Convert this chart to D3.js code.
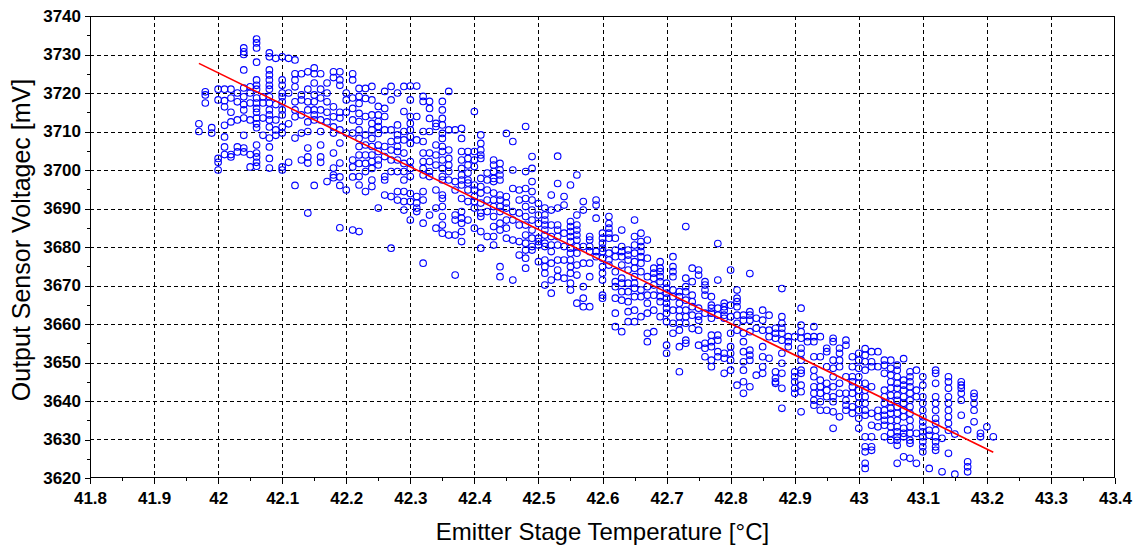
<!DOCTYPE html>
<html><head><meta charset="utf-8">
<script src="https://cdn.jsdelivr.net/npm/d3@7"></script>
<style>
html,body{margin:0;padding:0;background:#fff;}
svg{display:block;font-family:"Liberation Sans",Arial,sans-serif;}
</style></head>
<body>
<svg id="chart" width="1137" height="547"></svg>
<script>
const xTickValues = [41.8,41.9,42,42.1,42.2,42.3,42.4,42.5,42.6,42.7,42.8,42.9,43,43.1,43.2,43.3,43.4];
const xTickLabels = ["41.8","41.9","42","42.1","42.2","42.3","42.4","42.5","42.6","42.7","42.8","42.9","43","43.1","43.2","43.3","43.4"];
const xMinorTicks = [41.85,41.95,42.05,42.15,42.25,42.35,42.45,42.55,42.65,42.75,42.85,42.95,43.05,43.15,43.25,43.35];
const yTickValues = [3620,3630,3640,3650,3660,3670,3680,3690,3700,3710,3720,3730,3740];
const yMinorTicks = [3625,3635,3645,3655,3665,3675,3685,3695,3705,3715,3725,3735];
const xGrid = [41.9,42,42.1,42.2,42.3,42.4,42.5,42.6,42.7,42.8,42.9,43,43.1,43.2,43.3];
const yGrid = [3630,3640,3650,3660,3670,3680,3690,3700,3710,3720,3730];

const fitLine = [[41.97,3727.7],[43.21,3626.7]];

const temps = [41.97,41.98,41.99,42.00,42.01,42.02,42.03,42.04,42.05,42.06,42.07,42.08,42.09,42.10,42.11,42.12,42.13,42.14,42.15,42.16,42.17,42.18,42.19,42.20,42.21,42.22,42.23,42.24,42.25,42.26,42.27,42.28,42.29,42.30,42.31,42.32,42.33,42.34,42.35,42.36,42.37,42.38,42.39,42.40,42.41,42.42,42.43,42.44,42.45,42.46,42.47,42.48,42.49,42.50,42.51,42.52,42.53,42.54,42.55,42.56,42.57,42.58,42.59,42.60,42.61,42.62,42.63,42.64,42.65,42.66,42.67,42.68,42.69,42.70,42.71,42.72,42.73,42.74,42.75,42.76,42.77,42.78,42.79,42.80,42.81,42.82,42.83,42.84,42.85,42.86,42.87,42.88,42.89,42.90,42.91,42.92,42.93,42.94,42.95,42.96,42.97,42.98,42.99,43.00,43.01,43.02,43.03,43.04,43.05,43.06,43.07,43.08,43.09,43.10,43.11,43.12,43.13,43.14,43.15,43.16,43.17,43.18,43.19,43.20,43.21];

const voltages = [
[3712,3710],
[3720.3,3719.5,3717.4],
[3711,3709.6],
[3721,3718.2,3703,3702,3700],
[3721,3718,3716.4,3711.6,3708.6,3706,3704],
[3721,3718.7,3715,3712.5,3704,3703.4],
[3720,3717.7,3713,3706,3704.7],
[3731.7,3730.7,3730,3726,3721.3,3719,3717,3715.6,3713.5,3709,3705.7,3704.7],
[3721.6,3720,3717.4,3713,3704,3700.8],
[3734,3733,3731.7,3728,3723.4,3722,3721,3718.7,3717.4,3716,3715,3713.5,3712,3711,3706.5,3704.4,3703.4,3702,3701],
[3719,3717.4,3713.5,3709],
[3730.4,3729.4,3726,3724.7,3723.4,3722,3721,3719,3717.4,3715.6,3714.3,3713,3711.2,3708.3,3706,3703,3700.5],
[3729,3717,3713,3710.4,3709],
[3729.4,3723.4,3722,3720,3719,3717.7,3715.6,3714.3,3711.2,3709.6,3700.8,3700],
[3729,3720,3712,3702],
[3728.6,3725,3723.4,3721.6,3717.7,3715.6,3713.8,3708.3,3696],
[3725,3719.5,3718.2,3714.3,3709.6,3702.6],
[3725.5,3721,3717.7,3715.6,3712.5,3710,3705.7,3703.4,3701.8,3688.8],
[3726.5,3725,3722.6,3719.5,3717.7,3715.6,3714.3,3713,3696],
[3725,3721,3718.7,3715.6,3713,3710,3706.5,3703.4,3702],
[3722.6,3720,3717.7,3715,3712.5,3697],
[3725.5,3724,3716.4,3713.8,3711.2,3709.6,3704.4,3700.5,3698.7,3698],
[3725.5,3723.4,3722,3715,3713.5,3710.4,3707,3701.8,3698.2,3696,3685],
[3720,3718.2,3715,3709.6,3694.8],
[3725,3723.4,3718.7,3716,3713,3709.6,3702.6,3700.8,3698.2,3684.4],
[3721.2,3719.1,3717.3,3714.7,3712.6,3710.4,3708.2,3706.1,3703.9,3701.7,3698.3,3696.1,3684],
[3721.2,3718.6,3713.9,3709.1,3706.5,3703.9,3701.7,3699.6,3694.4],
[3721.7,3718.2,3714.3,3712.1,3710.4,3708.2,3706.1,3703.9,3702.2,3700.4,3697.4,3695.7],
[3716.5,3714.3,3712.6,3711.3,3709.5,3706.5,3704.8,3702.6,3701.3,3690.1],
[3720.4,3716,3713.9,3710.4,3706.1,3703.5,3698.3,3697.4,3693.5],
[3721.7,3718.2,3710.4,3707.4,3705.2,3702.6,3699.6,3693.1,3679.7],
[3720,3711.7,3709.1,3707.8,3706.1,3704.8,3702.6,3699.6,3694.4,3692.2],
[3721.7,3715.2,3710,3707.8,3704.4,3701.7,3699.6,3697.4,3694.4,3691.8,3689.6],
[3721.8,3718.2,3713.9,3712.1,3710.4,3708.7,3706.9,3702.2,3700.4,3698.3,3693.9,3691.8,3687],
[3721.8,3713.9,3707.8,3693.1,3691.4,3690.1,3689.2],
[3719.1,3717.8,3710,3707.4,3704.4,3702.2,3700.4,3698.7,3694.4,3692.2,3686.2,3675.8],
[3717.8,3716,3713.4,3710,3704.4,3702.2,3699.6,3698.3,3688.3],
[3712.1,3711.3,3706.5,3703.9,3701.3,3694.8,3690.1,3684.9],
[3717.8,3715.6,3713.4,3711.7,3709.5,3708.2,3706.1,3704.8,3702.6,3700.4,3698.3,3697.4,3693.5,3692.6,3690.5,3687.9,3685.7,3683.6],
[3720.4,3710.4,3705.2,3703,3701.3,3699.6,3697.4,3683.1],
[3710.4,3697,3694.8,3688.3,3687,3683.1,3672.7],
[3710.8,3708.2,3704.8,3702.6,3700.4,3698.7,3697.4,3696.1,3692.6,3689.2,3687.5,3686.2,3684,3681.4],
[3704.8,3703,3701.3,3699.2,3697.4,3696.6,3694.8,3691.8,3687],
[3715.2,3704.8,3702.6,3700.9,3696.1,3694.8,3693.1,3691.8,3690.1,3684.9],
[3709.1,3706.9,3705.2,3703.9,3703,3697.8,3695.7,3694,3691.4,3688.8,3687.9,3684,3679.7],
[3699.2,3697.4,3694.8,3692.2,3689.2,3682.7],
[3702.6,3701.3,3699.6,3697.8,3697,3694,3692.2,3690.5,3687.9,3685.3,3682.7,3680.5],
[3701.7,3700,3698.7,3697.4,3693.5,3692.2,3690.5,3689.2,3686.2,3684.4,3674.9,3672.3],
[3709.5,3693.1,3691.4,3690.1,3687,3684.9,3682.3],
[3707.4,3700,3695.2,3689.2,3687,3681.8,3671.4],
[3694.8,3692.2,3688.8,3685.7,3681.4,3677.9],
[3711.3,3699.6,3695.2,3692.6,3690.5,3687.9,3685.7,3683.1,3681,3679.2,3677.1,3674.5],
[3703.5,3700.4,3697,3694.4,3692.2,3689.6,3687,3684.4,3682.3,3680.1,3679.2],
[3691.3,3688.3,3686.1,3682.3,3681.4,3680.5,3676.2],
[3690.1,3688.3,3687,3685.7,3684.4,3683.1,3681,3680.1,3676.6,3674.9,3673.2,3670.1],
[3693.5,3689.6,3685.7,3682.7,3680.5,3678.8,3675.8,3671.4,3668],
[3703.6,3696.5,3690.1,3685.7,3684.4,3682.7,3680.5,3676.6,3674,3672.3],
[3693.1,3690.9,3683.6,3680.1,3676.6,3671.9],
[3696.1,3686.6,3685.3,3684,3682.7,3681.4,3679.7,3678.4,3676.6,3674.9,3673.2,3670.6,3668.8],
[3698.7,3688.3,3685.7,3684.4,3683.1,3681.8,3680.1,3678.4,3675.3,3672.7,3665.4],
[3691.8,3689.6,3680.1,3675.8,3669.7,3666.7,3664.5],
[3682.7,3681.8,3680.1,3678.8,3675.8,3672.3,3664.5],
[3692.2,3690.9,3687.5,3678.8,3677.5],
[3683.6,3682.3,3681,3679.7,3678.8,3677.1,3674.9,3673.2,3671.4,3667.5,3666.7],
[3687.9,3686.1,3684.9,3683.6,3682.3,3678.4,3676.6,3675.3],
[3682.3,3679.2,3677.5,3673.6,3671,3669.7,3666.7,3662.8,3659.3],
[3684.4,3680.1,3678.8,3677.5,3675.3,3671.9,3670.6,3668.4,3666.2,3658],
[3679.2,3677.9,3676.6,3674,3670.6,3668.4,3665.8,3663.2,3660.6],
[3687,3682.7,3680.5,3678.4,3676.2,3674.5,3672.3,3670.6,3669.3,3667.1,3663.6,3660.6],
[3683.6,3681.4,3680.1,3678.8,3677.5,3675.8,3673.6,3668.8,3667.1,3661.9],
[3681.8,3677.1,3672.3,3669.7,3667.5,3665.4,3662.8,3657.6,3655.4],
[3674.5,3673.2,3671.9,3670.1,3667.5,3663.6,3658],
[3676.2,3674.5,3673.6,3672.3,3671,3668.8,3667.1,3665.8,3661.9],
[3670.6,3669.3,3668,3666.7,3665.4,3664.1,3662.8,3660.6,3654.5,3652.4],
[3677.5,3674.9,3673.6,3672.3,3668.8,3667.1,3663.6,3660.2,3657.6],
[3668.4,3667.1,3665.4,3663.6,3661.9,3660.2,3658.4,3654.1,3647.6],
[3685.3,3671.9,3669.7,3668.4,3666.2,3663.6,3661.9,3660.2,3655.8,3655],
[3674.5,3671,3667.5,3665.8,3664.5,3662.3,3658.8],
[3674,3672.7,3664.1,3662,3661,3658.4,3654.5],
[3671,3670.1,3668.8,3667.5,3662.8,3655,3653.7,3651.5],
[3667.1,3664.9,3664.1,3662.8,3661.5,3657.1,3655.4,3654.1,3650.6,3648.9],
[3680.9,3671.4,3664.1,3662.3,3657.1,3655.8,3652.8,3651.5],
[3665.4,3664.5,3663.6,3662.3,3661.5,3652.4,3651.1,3647.2],
[3674,3664.9,3661.9,3657.6,3654.1,3652.4,3650.6,3648],
[3668.8,3666.7,3665.8,3664.5,3662.3,3660.2,3658.4,3644.1],
[3662.3,3661,3657.6,3655.4,3652.8,3650.2,3648,3645,3642],
[3673.1,3663.2,3662.3,3661,3658,3653.2,3651.9,3650.6,3643.7],
[3661.5,3658.9,3646.7],
[3663.6,3661,3658.4,3654.1,3651.5,3648.9,3647.2],
[3662.3,3658.4,3656.7,3651.1],
[3658.9,3657.6,3656.3,3647.6,3645.9,3645,3644.6],
[3669.2,3661.9,3660.2,3658.9,3657.6,3655.8,3652.4,3649.8,3647.2,3643.3,3638.1],
[3656.7,3655.4,3654.1],
[3656.7,3647.6,3646.3,3645,3643.3,3642],
[3664.1,3659.7,3658,3656.3,3653.7,3652.4,3650.6,3648,3647.2,3644.1,3642.4,3637.2],
[3656.7,3655.4],
[3659.3,3656.7,3655.4,3651.5,3648,3646.3,3643.7,3642,3640.2,3638.9],
[3656.7,3651.5,3645.4,3643.7,3642,3639.8,3637.6],
[3653.7,3652.8,3648.9,3644.6,3642.8,3641.1,3637.6],
[3656.3,3655.4,3650.6,3648.5,3646.3,3643.7,3641.1,3639.8,3637.2,3632.9],
[3653.7,3652.4,3650.6,3648.9,3644.6,3642,3635.9],
[3655.8,3654.5,3646.3,3642,3640.2,3638.9,3637.6],
[3651.5,3648.9,3646.3,3645,3643.7,3642,3638.5,3636.8],
[3652.4,3650.6,3648.5,3646.3,3644.6,3642.8,3641.1,3639.4,3637.6,3635.5,3632.9],
[3653.6,3651.9,3650.2,3648,3644.6,3642.8,3641.1,3639.4,3637.6,3636.3,3630.7,3628.1,3626.8,3623.8,3622.5],
[3652.8,3650.2,3648.9,3643.7,3636.8,3633.7,3630.7,3628.1,3627.2],
[3652.8,3648.9,3637.6,3635.9,3633.3],
[3650.6,3649.3,3647.2,3642.8,3641.1,3639.4,3637.6,3636.3,3635,3633.7,3630.7],
[3650.6,3648.5,3646.7,3645,3643.3,3641.5,3639.8,3638.1,3636.8,3635,3633.3,3631.6,3629.8],
[3649.3,3648,3646.3,3644.6,3643.3,3641.5,3640.2,3638.5,3636.8,3635,3633.3,3632,3630.7,3629.8,3628.5,3623.8],
[3651,3645.4,3644.1,3642.8,3641.1,3639.4,3637.6,3635.9,3632.9,3631.6,3630.7,3625.5],
[3647.6,3646.3,3645,3643.7,3642,3640.2,3638.5,3636.8,3635,3633.3,3631.6,3629.8,3629,3625.1],
[3648,3642.8,3641.1,3631.6,3623.8],
[3646.3,3644.1,3641.1,3639.4,3637.6,3635.9,3634.6,3633.3,3632,3630.7,3629.4,3628.1,3626.8],
[3632.4,3631.1,3622.5],
[3648,3647.2,3644.6,3641.1,3639.4,3637.6,3635.5,3634.2,3632.4,3630.7,3629.4,3628.1,3627.2],
[3630.3,3621.6],
[3646.3,3645,3643.3,3641.1,3639.4,3637.6,3635.9,3634.2,3632.4,3626.4],
[3631.4,3621],
[3645,3644.1,3643.3,3642,3640.2,3636.3],
[3632.5,3624.2,3622.9,3621.6],
[3642,3641.1,3639.4,3637.6,3634.6],
[3631.6,3630.7],
[3633.3],
[3630.7]
];

const points = [];
temps.forEach((t,i)=>voltages[i].forEach(v=>points.push([t,v])));

const L=90,R=1115,T=16,B=478;
const x = d3.scaleLinear().domain([41.8,43.4]).range([L,R]);
const y = d3.scaleLinear().domain([3620,3740]).range([B,T]);
const svg = d3.select("#chart");

// grid
const grid = svg.append("g").attr("stroke","#000").attr("stroke-width",1).attr("stroke-dasharray","4,3").attr("shape-rendering","crispEdges");
grid.selectAll("line.v").data(xGrid).join("line").attr("class","v")
  .attr("x1",d=>Math.round(x(d))+0.5).attr("x2",d=>Math.round(x(d))+0.5).attr("y1",T).attr("y2",B);
grid.selectAll("line.h").data(yGrid).join("line").attr("class","h")
  .attr("y1",d=>Math.round(y(d))+0.5).attr("y2",d=>Math.round(y(d))+0.5).attr("x1",L).attr("x2",R);

// points
svg.append("g").selectAll("circle").data(points).join("circle")
  .attr("cx",d=>x(d[0])).attr("cy",d=>y(d[1])).attr("r",3.3)
  .attr("fill","none").attr("stroke","#0000ff").attr("stroke-width",1.1);

// fit line
svg.append("path").datum(fitLine)
  .attr("d",d3.line().x(d=>x(d[0])).y(d=>y(d[1])))
  .attr("fill","none").attr("stroke","#ff0000").attr("stroke-width",1.6);

// axes
const xAxis = svg.append("g").attr("transform",`translate(0,${B})`)
  .call(d3.axisBottom(x).tickValues(xTickValues).tickSize(6).tickPadding(8)
    .tickFormat((d,i)=>xTickLabels[i]));
const xMinor = svg.append("g").attr("transform",`translate(0,${B})`)
  .call(d3.axisBottom(x).tickValues(xMinorTicks).tickSize(3).tickFormat(""));
const yAxis = svg.append("g").attr("transform",`translate(${L},0)`)
  .call(d3.axisLeft(y).tickValues(yTickValues).tickSize(5).tickPadding(4).tickFormat(d=>String(d)));
const yMinor = svg.append("g").attr("transform",`translate(${L},0)`)
  .call(d3.axisLeft(y).tickValues(yMinorTicks).tickSize(3).tickFormat(""));
[xAxis,xMinor,yAxis,yMinor].forEach(g=>{
  g.select(".domain").remove();
  g.selectAll(".tick line").attr("stroke","#000").attr("stroke-width",1).attr("shape-rendering","crispEdges");
  g.selectAll(".tick text").attr("fill","#000").attr("font-size",17).attr("font-weight","bold")
    .attr("font-family","'Liberation Sans',Arial,sans-serif");
});
xAxis.selectAll(".tick text").attr("dy","0.71em");

// frame
svg.append("rect").attr("x",L+0.5).attr("y",T+0.5).attr("width",R-L-1).attr("height",B-T-1)
  .attr("fill","none").attr("stroke","#000").attr("stroke-width",1.3).attr("shape-rendering","crispEdges");

// titles
svg.append("text").attr("x",(L+R)/2).attr("y",540).attr("text-anchor","middle")
  .attr("font-size",24).attr("fill","#000").text("Emitter Stage Temperature [°C]");
svg.append("text").attr("transform","translate(30,240) rotate(-90)").attr("text-anchor","middle")
  .attr("font-size",25).attr("fill","#000").text("Output Sensor Voltagec [mV]");
</script>
</body></html>
